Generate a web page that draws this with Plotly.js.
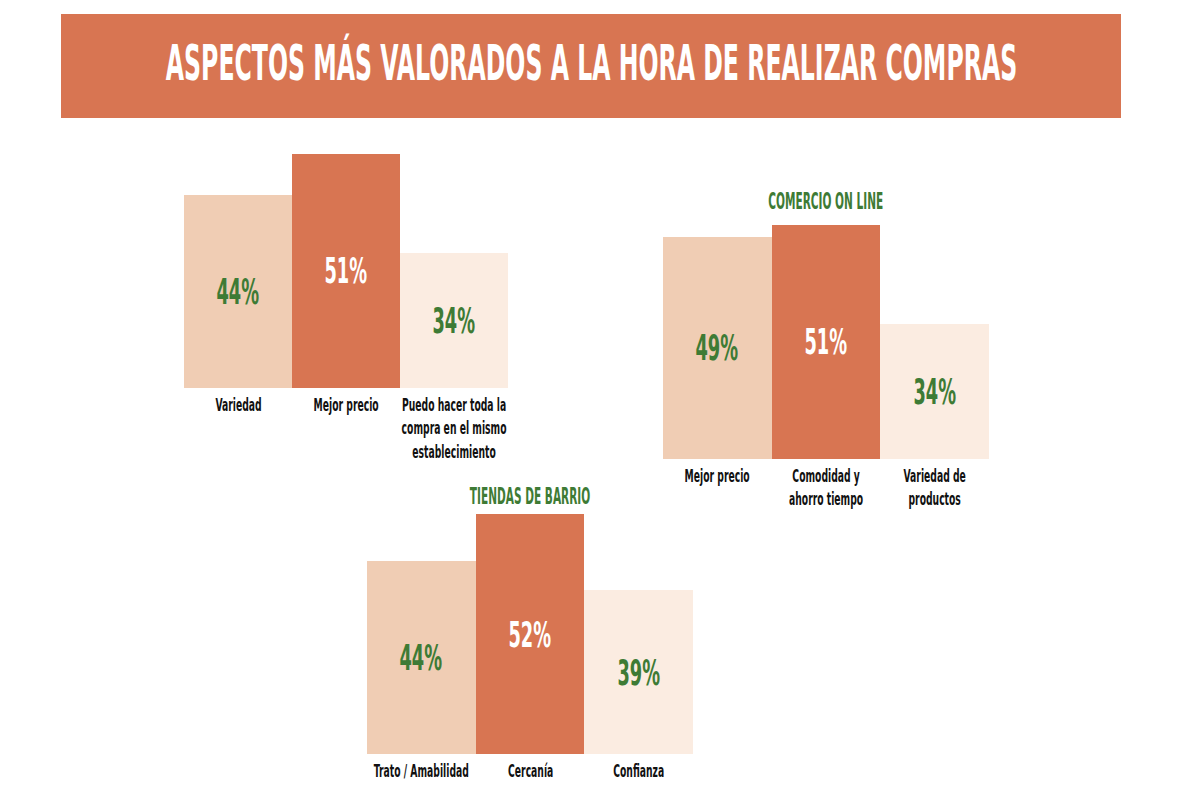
<!DOCTYPE html>
<html>
<head>
<meta charset="utf-8">
<script src="https://cdn.plot.ly/plotly-3.0.1.min.js"></script>
<style>html,body{margin:0;padding:0;background:#fff;}#chart{width:1200px;height:800px;}</style>
</head>
<body>
<div id="chart"></div>
<script>
// Data
const titleText = "ASPECTOS MÁS VALORADOS A LA HORA DE REALIZAR COMPRAS";

const generalCategories = ["Variedad", "Mejor precio", "Puedo hacer toda la<br>compra en el mismo<br>establecimiento"];
const generalValues = [44, 51, 34];

const onlineTitle = "COMERCIO ON LINE";
const onlineCategories = ["Mejor precio", "Comodidad y<br>ahorro tiempo", "Variedad de<br>productos"];
const onlineValues = [49, 51, 34];

const barrioTitle = "TIENDAS DE BARRIO";
const barrioCategories = ["Trato / Amabilidad", "Cercanía", "Confianza"];
const barrioValues = [44, 52, 39];

// Styles
const FONT = '"DejaVu Sans Condensed", "DejaVu Sans", sans-serif';
const barColors = ["#f0cdb4", "#d87552", "#fbece1"];
const textColors = ["#3e7b35", "#ffffff", "#3e7b35"];
const GREEN = "#3e7b35";
const W = 1200, H = 800;
const yRange = [11, 52];

function barTrace(cats, vals, xa, ya) {
  return {
    type: "bar", x: cats, y: vals, xaxis: xa, yaxis: ya,
    marker: {color: barColors, line: {width: 0}},
    hoverinfo: "skip", showlegend: false
  };
}

function xAx(x0, x1, anchor, cats) {
  return {
    domain: [x0 / W, x1 / W], anchor: anchor,
    type: "category", range: [-0.5, cats.length - 0.5], autorange: false,
    showgrid: false, zeroline: false, showline: false, ticks: "",
    showticklabels: false, fixedrange: true
  };
}
function yAx(bottomPx, topPx, anchor) {
  return {
    domain: [1 - bottomPx / H, 1 - topPx / H], anchor: anchor,
    range: yRange, autorange: false, visible: false, fixedrange: true
  };
}

const data = [
  barTrace(generalCategories, generalValues, "x", "y"),
  barTrace(onlineCategories, onlineValues, "x2", "y2"),
  barTrace(barrioCategories, barrioValues, "x3", "y3")
];

const annotations = [];
const scales = [];
function addAnn(a, sx) { annotations.push(a); scales.push(sx); }

addAnn({text: titleText, xref: "paper", yref: "paper", x: 591 / W, y: 1 - 62 / H,
  xanchor: "center", yanchor: "middle", showarrow: false,
  font: {family: FONT, size: 49, color: "#ffffff", weight: "bold"}}, 0.536);
addAnn({text: onlineTitle, xref: "paper", yref: "paper", x: 826 / W, y: 1 - 201 / H,
  xanchor: "center", yanchor: "middle", showarrow: false,
  font: {family: FONT, size: 23, color: GREEN, weight: "bold"}}, 0.51);
addAnn({text: barrioTitle, xref: "paper", yref: "paper", x: 530 / W, y: 1 - 496 / H,
  xanchor: "center", yanchor: "middle", showarrow: false,
  font: {family: FONT, size: 23, color: GREEN, weight: "bold"}}, 0.51);

function groupAnns(cats, vals, xa, ya) {
  cats.forEach((c, i) => {
    // value label in the middle of the bar
    addAnn({text: vals[i] + "%", xref: xa, yref: ya, x: c, y: (yRange[0] + vals[i]) / 2,
      xanchor: "center", yanchor: "middle", showarrow: false,
      font: {family: FONT, size: 36, color: textColors[i], weight: "bold"}}, 0.55);
    // category label under the bar
    addAnn({text: c, xref: xa, yref: ya, x: c, y: yRange[0], yshift: -4,
      xanchor: "center", yanchor: "top", align: "center", showarrow: false,
      font: {family: FONT, size: 18, color: "#111111", weight: "bold"}}, 0.57);
  });
}
groupAnns(generalCategories, generalValues, "x", "y");
groupAnns(onlineCategories, onlineValues, "x2", "y2");
groupAnns(barrioCategories, barrioValues, "x3", "y3");

const layout = {
  width: W, height: H,
  margin: {l: 0, r: 0, t: 0, b: 0},
  paper_bgcolor: "#ffffff",
  plot_bgcolor: "rgba(0,0,0,0)",
  bargap: 0,
  font: {family: FONT},
  xaxis: xAx(184, 508, "y", generalCategories),
  yaxis: yAx(388, 148, "x"),
  xaxis2: xAx(663, 989, "y2", onlineCategories),
  yaxis2: yAx(459, 219, "x2"),
  xaxis3: xAx(367, 693, "y3", barrioCategories),
  yaxis3: yAx(754, 514, "x3"),
  shapes: [
    {type: "rect", xref: "paper", yref: "paper",
     x0: 61 / W, x1: 1121 / W, y0: 1 - 118 / H, y1: 1 - 14 / H,
     fillcolor: "#d87552", line: {width: 0}, layer: "below"}
  ],
  annotations: annotations
};

function condense() {
  document.querySelectorAll("#chart g.annotation").forEach(g => {
    const i = +g.getAttribute("data-index");
    const t = g.querySelector("text.annotation-text");
    if (!t || isNaN(i)) return;
    t.style.transformBox = "fill-box";
    t.style.transformOrigin = "center";
    t.style.transform = "scaleX(" + scales[i] + ")";
  });
}

Plotly.newPlot("chart", data, layout, {displayModeBar: false, staticPlot: true}).then(condense);
</script>
</body>
</html>
